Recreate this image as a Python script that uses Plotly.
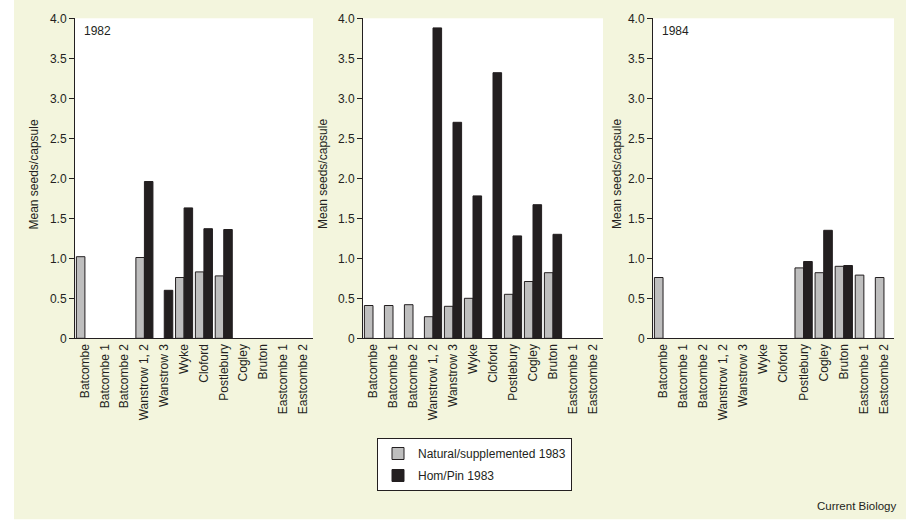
import plotly.graph_objects as go

# ---- data ----
categories = ["Batcombe", "Batcombe 1", "Batcombe 2", "Wanstrow 1, 2", "Wanstrow 3",
              "Wyke", "Cloford", "Postlebury", "Cogley", "Bruton", "Eastcombe 1", "Eastcombe 2"]

nat_1982 = [1.02, None, None, 1.01, None, 0.76, 0.83, 0.78, None, None, None, None]
hom_1982 = [None, None, None, 1.96, 0.60, 1.63, 1.37, 1.36, None, None, None, None]

nat_1983 = [0.41, 0.41, 0.42, 0.27, 0.40, 0.50, None, 0.55, 0.71, 0.82, None, None]
hom_1983 = [None, None, None, 3.88, 2.70, 1.78, 3.32, 1.28, 1.67, 1.30, None, None]

nat_1984 = [0.76, None, None, None, None, None, None, 0.88, 0.82, 0.90, 0.79, 0.76]
hom_1984 = [None, None, None, None, None, None, None, 0.96, 1.35, 0.91, None, None]

panel_years = ["1982", "", "1984"]
y_tickvals = [0, 0.5, 1.0, 1.5, 2.0, 2.5, 3.0, 3.5, 4.0]
y_ticktext = ["0", "0.5", "1.0", "1.5", "2.0", "2.5", "3.0", "3.5", "4.0"]
series_names = ["Natural/supplemented 1983", "Hom/Pin 1983"]
y_title = "Mean seeds/capsule"

# ---- style ----
W, H = 912, 526
CREAM = "#F3F5DD"
DARK = "#231F20"
GREY = "#BEBEBE"
FONT = "Liberation Sans, Arial, Helvetica, sans-serif"

def px(x):
    return x / W

def py(y):
    return 1 - y / H

x_domains = [(75, 313), (363, 603), (653, 894)]
y_dom = [py(338.3), py(18.3)]
ytitle_x = [33, 322.5, 616.5]

panels = [(nat_1982, hom_1982), (nat_1983, hom_1983), (nat_1984, hom_1984)]

fig = go.Figure()

for i, (nat, hom) in enumerate(panels):
    xa = "x" if i == 0 else f"x{i+1}"
    ya = "y" if i == 0 else f"y{i+1}"
    fig.add_trace(go.Bar(
        x=categories, y=nat, name=series_names[0], legendgroup="nat",
        showlegend=(i == 0), xaxis=xa, yaxis=ya,
        marker=dict(color=GREY, line=dict(color=DARK, width=1)),
        hoverinfo="x+y",
    ))
    fig.add_trace(go.Bar(
        x=categories, y=hom, name=series_names[1], legendgroup="hom",
        showlegend=(i == 0), xaxis=xa, yaxis=ya,
        marker=dict(color=DARK, line=dict(color=DARK, width=1)),
        hoverinfo="x+y",
    ))

layout = dict(
    width=W, height=H, autosize=False,
    margin=dict(l=0, r=0, t=0, b=0, pad=0, autoexpand=False),
    paper_bgcolor=CREAM, plot_bgcolor="white",
    barmode="group", bargap=0.14, bargroupgap=0,
    font=dict(family=FONT, size=12, color=DARK),
    legend=dict(
        x=px(377), y=py(438), xanchor="left", yanchor="top",
        bgcolor="white", bordercolor=DARK, borderwidth=1,
        font=dict(size=12, color=DARK), tracegroupgap=3,
    ),
)

for i in range(3):
    sx = "" if i == 0 else str(i + 1)
    layout[f"xaxis{sx}"] = dict(
        domain=[px(x_domains[i][0]), px(x_domains[i][1])],
        anchor=f"y{sx}", type="category",
        categoryorder="array", categoryarray=categories,
        range=[-0.5, len(categories) - 0.5],
        showline=True, linecolor=DARK, linewidth=1,
        ticks="", tickangle=-90, showgrid=False, zeroline=False,
        tickfont=dict(size=12, color=DARK, family=FONT),
        automargin=False, fixedrange=True,
    )
    layout[f"yaxis{sx}"] = dict(
        domain=y_dom, anchor=f"x{sx}",
        range=[0, 4.0],
        tickvals=y_tickvals, ticktext=y_ticktext,
        ticks="outside", ticklen=5, tickwidth=1, tickcolor=DARK,
        showline=True, linecolor=DARK, linewidth=1,
        showgrid=False, zeroline=False,
        tickfont=dict(size=12, color=DARK, family=FONT),
        automargin=False, fixedrange=True,
    )

fig.update_layout(**layout)

annotations = []
for i in range(3):
    annotations.append(dict(
        x=px(ytitle_x[i]), y=py(174.5), xref="paper", yref="paper",
        text=y_title, textangle=-90, showarrow=False,
        xanchor="center", yanchor="middle",
        font=dict(size=12, color=DARK, family=FONT),
    ))
    if panel_years[i]:
        annotations.append(dict(
            x=px(x_domains[i][0] + 6.5), y=py(31), xref="paper", yref="paper",
            text=panel_years[i], showarrow=False,
            xanchor="left", yanchor="middle",
            font=dict(size=12, color=DARK, family=FONT),
        ))
annotations.append(dict(
    x=px(899), y=py(506), xref="paper", yref="paper",
    text="Current Biology", showarrow=False, xanchor="right", yanchor="middle",
    font=dict(size=11.5, color=DARK, family=FONT),
))
fig.update_layout(annotations=annotations)

# white margins outside the cream panel
shapes = [
    dict(type="rect", xref="paper", yref="paper", x0=0, x1=px(14), y0=0, y1=1,
         fillcolor="white", line=dict(width=0), layer="below"),
    dict(type="rect", xref="paper", yref="paper", x0=px(906), x1=1, y0=0, y1=1,
         fillcolor="white", line=dict(width=0), layer="below"),
    dict(type="rect", xref="paper", yref="paper", x0=0, x1=1, y0=0, y1=py(519.3),
         fillcolor="white", line=dict(width=0), layer="below"),
]
fig.update_layout(shapes=shapes)

fig.write_html(
    "out.html",
    config={"responsive": False, "displayModeBar": False},
    post_script="document.body.style.margin='0';document.body.style.overflow='hidden';",
)
